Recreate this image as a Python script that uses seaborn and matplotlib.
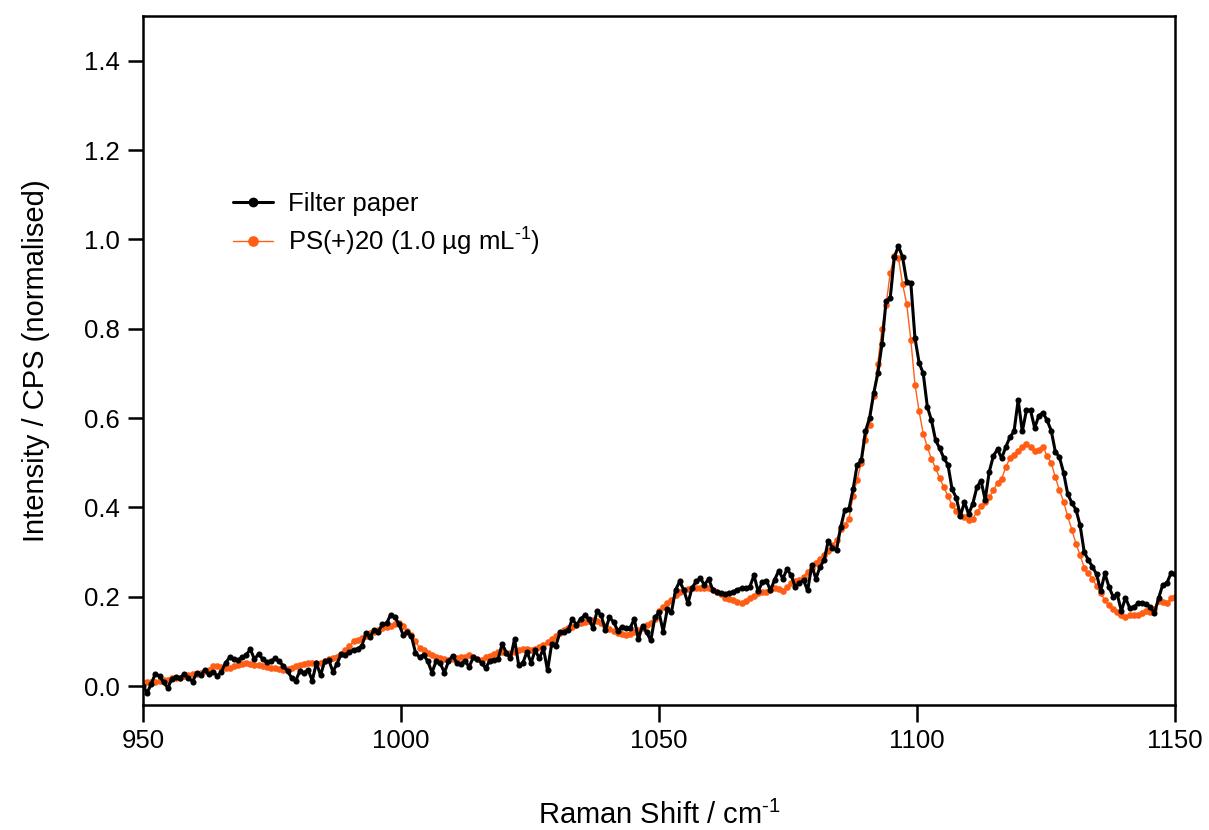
import matplotlib
matplotlib.use("Agg")
import matplotlib.pyplot as plt
import seaborn as sns
import numpy as np

# Raman shift axis (cm-1), 0.8 cm-1 steps
shift = np.round(np.arange(950, 1150.001, 0.8), 1)

filter_paper = [
    0.000, -0.015, 0.005, 0.028, 0.022, 0.008, -0.004, 0.016, 0.021, 0.018,
    0.027, 0.018, 0.010, 0.029, 0.025, 0.036, 0.026, 0.032, 0.022, 0.032,
    0.052, 0.064, 0.060, 0.058, 0.064, 0.070, 0.082, 0.060, 0.072, 0.060,
    0.053, 0.055, 0.062, 0.055, 0.045, 0.034, 0.018, 0.012, 0.034, 0.030,
    0.036, 0.012, 0.052, 0.024, 0.055, 0.058, 0.032, 0.050, 0.072, 0.070,
    0.076, 0.081, 0.083, 0.090, 0.118, 0.110, 0.126, 0.122, 0.138, 0.140,
    0.160, 0.155, 0.138, 0.115, 0.120, 0.112, 0.075, 0.064, 0.070, 0.055,
    0.030, 0.056, 0.051, 0.030, 0.055, 0.068, 0.052, 0.050, 0.056, 0.043,
    0.064, 0.060, 0.052, 0.040, 0.057, 0.058, 0.060, 0.094, 0.075, 0.062,
    0.105, 0.047, 0.051, 0.077, 0.052, 0.080, 0.062, 0.084, 0.035, 0.095,
    0.090, 0.120, 0.122, 0.125, 0.150, 0.137, 0.150, 0.158, 0.150, 0.130,
    0.168, 0.158, 0.125, 0.154, 0.143, 0.124, 0.132, 0.130, 0.130, 0.150,
    0.105, 0.135, 0.120, 0.102, 0.154, 0.165, 0.122, 0.172, 0.165, 0.215,
    0.234, 0.215, 0.185, 0.220, 0.234, 0.242, 0.226, 0.240, 0.216, 0.210,
    0.209, 0.207, 0.208, 0.211, 0.216, 0.219, 0.219, 0.222, 0.248, 0.212,
    0.232, 0.236, 0.214, 0.238, 0.258, 0.240, 0.262, 0.248, 0.222, 0.230,
    0.237, 0.214, 0.270, 0.240, 0.267, 0.282, 0.325, 0.310, 0.305, 0.355,
    0.394, 0.396, 0.440, 0.495, 0.505, 0.570, 0.600, 0.655, 0.700, 0.765,
    0.862, 0.868, 0.960, 0.985, 0.960, 0.905, 0.902, 0.779, 0.724, 0.700,
    0.625, 0.595, 0.550, 0.532, 0.510, 0.495, 0.440, 0.422, 0.381, 0.412,
    0.385, 0.408, 0.445, 0.460, 0.417, 0.480, 0.515, 0.530, 0.510, 0.535,
    0.557, 0.570, 0.640, 0.570, 0.617, 0.617, 0.578, 0.605, 0.612, 0.595,
    0.572, 0.525, 0.512, 0.478, 0.430, 0.410, 0.395, 0.360, 0.300, 0.282,
    0.267, 0.250, 0.213, 0.252, 0.222, 0.200, 0.205, 0.168, 0.198, 0.175,
    0.176, 0.185, 0.186, 0.183, 0.177, 0.163, 0.196, 0.226, 0.230, 0.252,
    0.250,
]

ps20 = [
    0.006, 0.008, 0.010, 0.009, 0.012, 0.014, 0.013, 0.017, 0.018, 0.019,
    0.022, 0.024, 0.026, 0.028, 0.030, 0.033, 0.036, 0.044, 0.045, 0.042,
    0.040, 0.041, 0.045, 0.048, 0.050, 0.051, 0.050, 0.048, 0.046, 0.044,
    0.042, 0.040, 0.040, 0.038, 0.036, 0.037, 0.040, 0.044, 0.046, 0.050,
    0.052, 0.052, 0.051, 0.052, 0.056, 0.060, 0.063, 0.066, 0.072, 0.080,
    0.090, 0.100, 0.104, 0.108, 0.112, 0.118, 0.122, 0.126, 0.130, 0.133,
    0.135, 0.138, 0.142, 0.135, 0.124, 0.115, 0.100, 0.085, 0.080, 0.075,
    0.070, 0.066, 0.062, 0.060, 0.058, 0.060, 0.062, 0.064, 0.066, 0.070,
    0.066, 0.060, 0.058, 0.064, 0.068, 0.072, 0.076, 0.077, 0.075, 0.073,
    0.076, 0.080, 0.082, 0.082, 0.080, 0.082, 0.088, 0.092, 0.098, 0.106,
    0.112, 0.118, 0.126, 0.130, 0.133, 0.136, 0.140, 0.143, 0.146, 0.148,
    0.145, 0.140, 0.134, 0.127, 0.123, 0.119, 0.117, 0.115, 0.116, 0.120,
    0.125, 0.130, 0.136, 0.141, 0.150, 0.168, 0.178, 0.186, 0.192, 0.203,
    0.210, 0.214, 0.217, 0.219, 0.220, 0.219, 0.219, 0.220, 0.216, 0.211,
    0.205, 0.198, 0.194, 0.192, 0.188, 0.186, 0.190, 0.196, 0.202, 0.208,
    0.210, 0.211, 0.215, 0.219, 0.218, 0.212, 0.222, 0.230, 0.234, 0.237,
    0.245, 0.256, 0.265, 0.276, 0.284, 0.294, 0.302, 0.315, 0.327, 0.352,
    0.360, 0.375, 0.425, 0.462, 0.500, 0.550, 0.585, 0.650, 0.722, 0.800,
    0.853, 0.925, 0.962, 0.958, 0.900, 0.855, 0.775, 0.675, 0.615, 0.565,
    0.535, 0.508, 0.488, 0.465, 0.445, 0.425, 0.405, 0.392, 0.382, 0.378,
    0.372, 0.375, 0.390, 0.402, 0.412, 0.423, 0.438, 0.455, 0.464, 0.490,
    0.510, 0.518, 0.526, 0.535, 0.542, 0.534, 0.526, 0.528, 0.536, 0.515,
    0.500, 0.468, 0.438, 0.413, 0.380, 0.350, 0.319, 0.293, 0.265, 0.252,
    0.240, 0.224, 0.208, 0.192, 0.182, 0.172, 0.166, 0.160, 0.155, 0.158,
    0.159, 0.160, 0.164, 0.167, 0.165, 0.172, 0.190, 0.188, 0.186, 0.196,
    0.200,
]

y_ticks = [0.0, 0.2, 0.4, 0.6, 0.8, 1.0, 1.2, 1.4]
x_ticks = [950, 1000, 1050, 1100, 1150]

sns.set_style("ticks")
plt.rcParams["font.family"] = ["Liberation Sans", "DejaVu Sans"]
plt.rcParams["mathtext.fontset"] = "custom"
plt.rcParams["mathtext.rm"] = "Liberation Sans"
plt.rcParams["text.color"] = "black"
plt.rcParams["axes.labelcolor"] = "black"

orange = "#ff5e14"

fig = plt.figure(figsize=(12.09, 8.30), dpi=100)
ax = fig.add_axes([0.1183, 0.1506, 0.8536, 0.8301])

# orange below, black on top
sns.lineplot(x=shift, y=ps20, ax=ax, color=orange, linewidth=1.0,
             marker="o", markersize=4.8, markeredgewidth=0,
             label="PS(+)20 (1.0 µg mL$^{\\text{-1}}$)", zorder=2)
sns.lineplot(x=shift, y=filter_paper, ax=ax, color="black", linewidth=2.2,
             marker="o", markersize=4.4, markeredgewidth=0,
             label="Filter paper", zorder=3)

ax.set_xlim(950, 1150)
ax.set_ylim(-0.0425, 1.5)
ax.set_xticks(x_ticks)
ax.set_yticks(y_ticks)
ax.set_yticklabels([f"{v:.1f}" for v in y_ticks])

for s in ax.spines.values():
    s.set_linewidth(1.8)
    s.set_color("black")
ax.tick_params(axis="both", direction="out", width=1.8, labelsize=18.5,
               colors="black", top=False, right=False)
ax.tick_params(axis="y", length=11, pad=6)
ax.tick_params(axis="x", length=12.5, pad=5)

ax.set_xlabel("Raman Shift / cm$^{\\text{-1}}$", fontsize=21, labelpad=34)
ax.set_ylabel("Intensity / CPS (normalised)", fontsize=21, labelpad=24)

h, l = ax.get_legend_handles_labels()
leg = ax.legend(h[::-1], l[::-1], loc="upper left",
                bbox_to_anchor=(0.087, 0.744), frameon=False,
                fontsize=18.5, handlelength=1.55, handletextpad=0.6,
                labelspacing=0.3, borderpad=0, borderaxespad=0,
                markerscale=1.6)
for t in leg.get_texts():
    t.set_color("black")

fig.savefig("out.png", dpi=100)
